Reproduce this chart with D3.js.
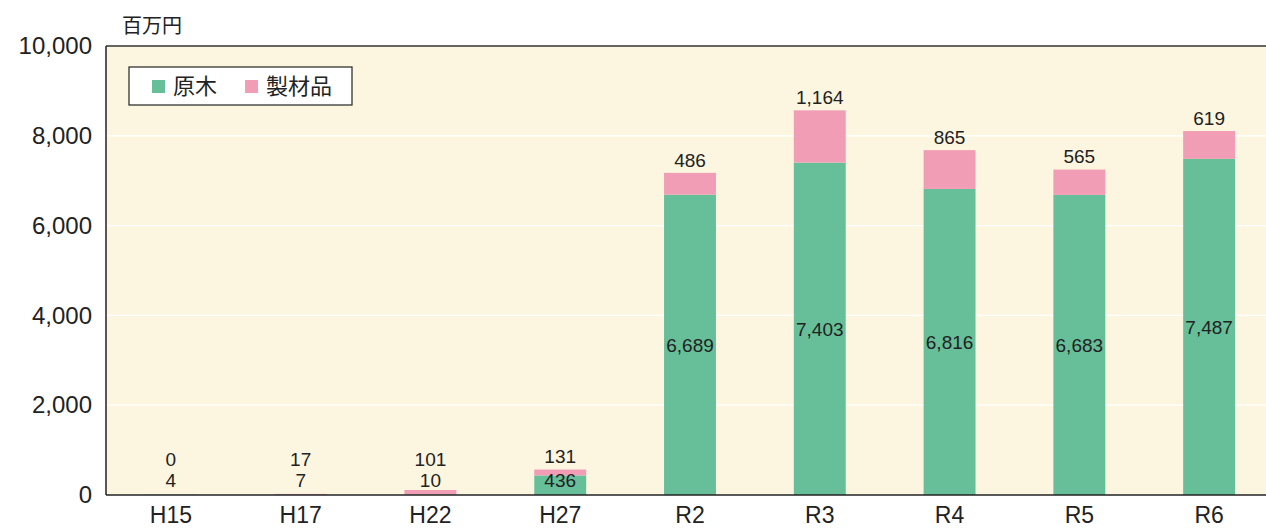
<!DOCTYPE html>
<html>
<head>
<meta charset="utf-8">
<script src="https://cdn.jsdelivr.net/npm/d3@7/dist/d3.min.js"></script>
<style>
  body { margin: 0; background: #fff; }
  text { font-family: "Liberation Sans", "Noto Sans CJK JP", sans-serif; fill: #222; }
  text.jp { font-family: "Noto Sans CJK JP", sans-serif; }
</style>
</head>
<body>
<div id="chart"></div>
<script>
var years = ["H15", "H17", "H22", "H27", "R2", "R3", "R4", "R5", "R6"];
var genboku = [4, 7, 10, 436, 6689, 7403, 6816, 6683, 7487];   // 原木
var seizai = [0, 17, 101, 131, 486, 1164, 865, 565, 619];      // 製材品
var seriesNames = ["原木", "製材品"];
var yTicks = [0, 2000, 4000, 6000, 8000, 10000];

var colors = {"原木": "#66bf98", "製材品": "#f19db5"};

var width = 1266, height = 532;
var m = {left: 106, top: 46, bottom: 495, right: 1274};

var svg = d3.select("#chart").append("svg")
  .attr("width", width)
  .attr("height", height);

var x = d3.scaleBand().domain(years).range([m.left, m.right]).paddingInner(0.6).paddingOuter(0.3);
var y = d3.scaleLinear().domain([0, 10000]).range([m.bottom, m.top]);

// plot background
svg.append("rect")
  .attr("x", m.left).attr("y", m.top)
  .attr("width", width - m.left).attr("height", m.bottom - m.top)
  .style("fill", "#fcf6e0");

// white grid lines
svg.append("g").selectAll("line")
  .data(yTicks.slice(1, -1))
  .join("line")
  .attr("x1", m.left).attr("x2", width)
  .attr("y1", d => y(d)).attr("y2", d => y(d))
  .style("stroke", "#fff").style("stroke-width", 1.2);

// bars
var rows = years.map((yr, i) => ({year: yr, a: genboku[i], b: seizai[i]}));

svg.append("g").selectAll("rect")
  .data(rows)
  .join("rect")
  .attr("x", d => x(d.year))
  .attr("width", x.bandwidth())
  .attr("y", d => y(d.a))
  .attr("height", d => y(0) - y(d.a))
  .style("fill", colors["原木"]);

svg.append("g").selectAll("rect")
  .data(rows)
  .join("rect")
  .attr("x", d => x(d.year))
  .attr("width", x.bandwidth())
  .attr("y", d => y(d.a + d.b))
  .attr("height", d => y(d.a) - y(d.a + d.b))
  .style("fill", colors["製材品"]);

// value labels
var fmt = d3.format(",");
function greenY(d) { return Math.min(y(d.a / 2), m.bottom - 15); }
function pinkY(d) { return Math.min(y(d.a + d.b) - 13, greenY(d) - 21); }

svg.append("g").selectAll("text")
  .data(rows)
  .join("text")
  .attr("x", d => x(d.year) + x.bandwidth() / 2)
  .attr("y", d => greenY(d))
  .attr("dy", "0.36em")
  .attr("text-anchor", "middle")
  .style("font-size", "19px")
  .text(d => fmt(d.a));

svg.append("g").selectAll("text")
  .data(rows)
  .join("text")
  .attr("x", d => x(d.year) + x.bandwidth() / 2)
  .attr("y", d => pinkY(d))
  .attr("dy", "0.36em")
  .attr("text-anchor", "middle")
  .style("font-size", "19px")
  .text(d => fmt(d.b));

// axes
var yAxis = d3.axisLeft(y).tickValues(yTicks).tickSize(0).tickPadding(14).tickFormat(fmt);
var gy = svg.append("g").attr("transform", "translate(" + m.left + ",0)").call(yAxis);
gy.select(".domain").remove();
gy.selectAll("text").style("font-size", "24px").attr("font-family", null);

var xAxis = d3.axisBottom(x).tickSize(0).tickPadding(12);
var gx = svg.append("g").attr("transform", "translate(0," + m.bottom + ")").call(xAxis);
gx.select(".domain").remove();
gx.selectAll("text").style("font-size", "23px").attr("font-family", null);

// frame lines
svg.append("line").attr("x1", m.left).attr("x2", width).attr("y1", m.top).attr("y2", m.top)
  .style("stroke", "#333").style("stroke-width", 1.5);
svg.append("line").attr("x1", m.left).attr("x2", width).attr("y1", m.bottom).attr("y2", m.bottom)
  .style("stroke", "#222").style("stroke-width", 1.5);
svg.append("line").attr("x1", m.left).attr("x2", m.left).attr("y1", m.top).attr("y2", m.bottom)
  .style("stroke", "#222").style("stroke-width", 1.5);

// unit
svg.append("text").attr("class", "jp")
  .attr("x", 122).attr("y", 33)
  .style("font-size", "20px")
  .text("百万円");

// legend
var leg = svg.append("g").attr("transform", "translate(129,67)");
leg.append("rect").attr("width", 223).attr("height", 38)
  .style("fill", "#fff").style("stroke", "#222").style("stroke-width", 1.2);
var legX = [23, 116];
seriesNames.forEach((name, i) => {
  var g = leg.append("g").attr("transform", "translate(" + legX[i] + ",0)");
  g.append("rect").attr("x", 0).attr("y", 13).attr("width", 13).attr("height", 13)
    .style("fill", colors[name]);
  g.append("text").attr("class", "jp").attr("x", 21).attr("y", 19).attr("dy", "0.36em")
    .style("font-size", "22px")
    .text(name);
});
</script>
</body>
</html>
